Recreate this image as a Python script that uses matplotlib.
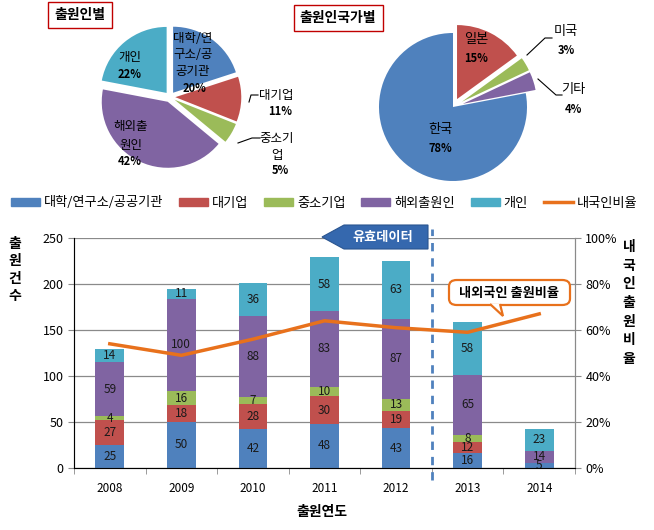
import numpy as np
import matplotlib
matplotlib.use('Agg')
import matplotlib.pyplot as plt
from matplotlib.patches import Polygon, FancyBboxPatch, Patch
from matplotlib.lines import Line2D

plt.rcParams['font.family'] = ['Noto Sans CJK KR', 'DejaVu Sans']

# ---- data ----
years = ['2008', '2009', '2010', '2011', '2012', '2013', '2014']
series_names = ['대학/연구소/공공기관', '대기업', '중소기업', '해외출원인', '개인']
univ = [25, 50, 42, 48, 43, 16, 5]
large = [27, 18, 28, 30, 19, 12, 0]
small = [4, 16, 7, 10, 13, 8, 0]
foreign = [59, 100, 88, 83, 87, 65, 14]
person = [14, 11, 36, 58, 63, 58, 23]
domestic_ratio = [54, 49, 56, 64, 61, 59, 67]  # %

pie1_labels = ['대학/연\n구소/공\n공기관', '대기업', '중소기\n업', '해외출\n원인', '개인']
pie1_values = [20, 11, 5, 42, 22]
pie2_labels = ['일본', '미국', '기타', '한국']
pie2_values = [15, 3, 4, 78]

colors = ['#4F81BD', '#C0504D', '#9BBB59', '#8064A2', '#4BACC6']
orange = '#E8711C'
W, H = 654, 530

fig = plt.figure(figsize=(W / 100, H / 100), dpi=100)


def fx(x):
    return x / W


def fy(y):
    return 1 - y / H


def ftext(x, y, s, **kw):
    fig.text(fx(x), fy(y), s, ha='center', va='center', **kw)


def pie_axes(cx, cy, unit):
    box = 2.5 * unit
    ax = fig.add_axes([fx(cx - box / 2), fy(cy + box / 2), box / W, box / H])
    ax.set_xlim(-1.25, 1.25)
    ax.set_ylim(-1.25, 1.25)
    ax.set_aspect('equal')
    ax.axis('off')
    return ax


# ---- pie 1: 출원인별 ----
ax1 = pie_axes(170, 97, 66)
ax1.pie(pie1_values, colors=colors, startangle=90, counterclock=False,
        explode=[0.08] * 5, radius=1, wedgeprops=dict(linewidth=0))
ftext(193, 55, pie1_labels[0], fontsize=9, linespacing=1.35)
ftext(195, 88, '20%', fontsize=8, fontweight='bold')
ftext(276, 96, pie1_labels[1], fontsize=9)
ftext(280, 111, '11%', fontsize=8, fontweight='bold')
ftext(277, 147, pie1_labels[2], fontsize=9, linespacing=1.35)
ftext(280, 171, '5%', fontsize=8, fontweight='bold')
ftext(131, 136, pie1_labels[3], fontsize=9, linespacing=1.6)
ftext(130, 162, '42%', fontsize=8, fontweight='bold')
ftext(130, 57, pie1_labels[4], fontsize=9)
ftext(130, 74, '22%', fontsize=8, fontweight='bold')
fig.add_artist(Line2D([fx(249), fx(251), fx(258)], [fy(102), fy(95), fy(95)], color='black', lw=0.8))
fig.add_artist(Line2D([fx(238), fx(252), fx(260)], [fy(143), fy(138), fy(138)], color='black', lw=0.8))
ftext(80, 15, '출원인별', fontsize=10, fontweight='bold',
      bbox=dict(boxstyle='square,pad=0.45', fc='white', ec='#C00000', lw=1))

# ---- pie 2: 출원인국가별 ----
ax2 = pie_axes(453, 107, 74)
ax2.pie(pie2_values, colors=[colors[1], colors[2], colors[3], colors[0]], startangle=90,
        counterclock=False, explode=[0.12, 0.14, 0.14, 0], radius=1,
        wedgeprops=dict(linewidth=0))
ftext(476, 40, pie2_labels[0], fontsize=9.5)
ftext(476, 58, '15%', fontsize=8, fontweight='bold')
ftext(566, 31, pie2_labels[1], fontsize=9.5)
ftext(566, 51, '3%', fontsize=8, fontweight='bold')
ftext(573, 90, pie2_labels[2], fontsize=9.5)
ftext(573, 109, '4%', fontsize=8, fontweight='bold')
ftext(440, 130, pie2_labels[3], fontsize=9.5)
ftext(440, 149, '78%', fontsize=8, fontweight='bold')
fig.add_artist(Line2D([fx(527), fx(545), fx(552)], [fy(55), fy(38), fy(38)], color='black', lw=0.8))
fig.add_artist(Line2D([fx(538), fx(556), fx(562)], [fy(79), fy(95), fy(95)], color='black', lw=0.8))
ftext(338, 18, '출원인국가별', fontsize=10, fontweight='bold',
      bbox=dict(boxstyle='square,pad=0.45', fc='white', ec='#C00000', lw=1))

# ---- stacked bar + ratio line ----
ax = fig.add_axes([fx(74), fy(468), (575 - 74) / W, (468 - 238) / H])
x = np.arange(len(years))
stack = [univ, large, small, foreign, person]
bottom = np.zeros(len(years))
for vals, c in zip(stack, colors):
    vals = np.array(vals)
    ax.bar(x, vals, 0.4, bottom=bottom, color=c, zorder=2)
    for xi, b, v in zip(x, bottom, vals):
        if v > 0:
            ax.text(xi, b + v / 2, str(v), ha='center', va='center', fontsize=8.5,
                    color='#1a1a1a', zorder=4)
    bottom += vals

ax.set_xlim(-0.5, len(years) - 0.5)
ax.set_ylim(0, 250)
ax.set_yticks(range(0, 251, 50))
ax.yaxis.grid(True, color='#8a8a8a', lw=0.9, zorder=0)
ax.set_xticks(x)
ax.set_xticklabels(years, fontsize=8.5)
ax.set_xticks(np.arange(-0.5, len(years), 1), minor=True)
ax.tick_params(axis='x', which='major', length=0, pad=10)
ax.tick_params(axis='x', which='minor', length=4, color='#8a8a8a')
ax.tick_params(axis='y', length=4, color='#8a8a8a', labelsize=9)
ax.spines['top'].set_visible(False)
for s in ['left', 'right', 'bottom']:
    ax.spines[s].set_color('#8a8a8a')

ax2b = ax.twinx()
ax2b.plot(x, np.array(domestic_ratio) / 100, color=orange, lw=2.5, zorder=5)
ax2b.set_ylim(0, 1)
ax2b.set_yticks(np.arange(0, 1.01, 0.2))
ax2b.set_yticklabels([f'{int(round(v * 100))}%' for v in np.arange(0, 1.01, 0.2)], fontsize=9)
ax2b.tick_params(axis='y', length=4, color='#8a8a8a')
ax2b.spines['top'].set_visible(False)
ax2b.spines['right'].set_color('#8a8a8a')

# dashed divider between 2012 and 2013
ax.axvline(4.5, ymin=-0.05, ymax=1.04, color='#4F81BD', ls=(0, (3, 2.5)), lw=2,
           clip_on=False, zorder=6)

# axis titles
ftext(15, 270, '출\n원\n건\n수', fontsize=10, fontweight='bold', linespacing=1.3)
ftext(629, 303, '내\n국\n인\n출\n원\n비\n율', fontsize=10, fontweight='bold', linespacing=1.42)
ftext(322, 512, '출원연도', fontsize=10, fontweight='bold')

# "유효데이터" arrow tag
tag = [(322, 237), (344, 225), (428, 225), (428, 249), (344, 249)]
fig.add_artist(Polygon([(fx(a), fy(b)) for a, b in tag], closed=True,
                       fc='#3568AE', ec='#2A5590', lw=0.8, zorder=7))
ftext(383, 237, '유효데이터', fontsize=9.5, color='white', fontweight='bold', zorder=8)

# callout
fig.add_artist(FancyBboxPatch((fx(449), fy(305)), (570 - 449) / W, (305 - 280) / H,
                              boxstyle='round,pad=0,rounding_size=0.012',
                              fc='white', ec=orange, lw=1.6, zorder=7))
tail = [(490, 304), (503, 316), (500, 304)]
fig.add_artist(Polygon([(fx(a), fy(b)) for a, b in tail], closed=False,
                       fc='white', ec=orange, lw=1.6, zorder=8))
ftext(509, 293, '내외국인 출원비율', fontsize=9.5, fontweight='bold', zorder=9)

# legend
handles = [Patch(color=c) for c in colors] + [Line2D([], [], color=orange, lw=2.5)]
fig.legend(handles, series_names + ['내국인비율'], loc='center',
           bbox_to_anchor=(fx(324), fy(203)), ncol=6, frameon=False, fontsize=9.5,
           handlelength=2.2, handleheight=0.5, handletextpad=0.3, columnspacing=1.2)

fig.savefig('out.png', dpi=100)
